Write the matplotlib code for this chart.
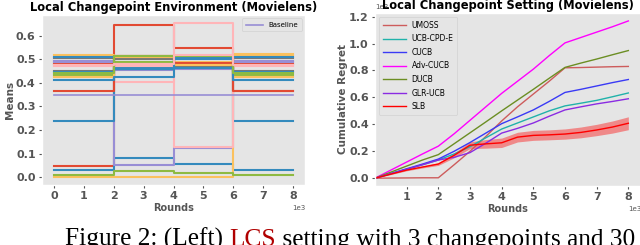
import numpy as np
import matplotlib
matplotlib.use("Agg")
import matplotlib.pyplot as plt

plt.style.use("ggplot")

# ---------------- data: left panel (arm means per segment) ----------------
change_rounds = [0, 2000, 4000, 6000, 8000]
arm_means = [
    [0.046, 0.645, 0.548, 0.365],
    [0.029, 0.082, 0.055, 0.029],
    [0.493, 0.051, 0.125, 0.493],
    [0.504, 0.500, 0.505, 0.504],
    [0.000, 0.000, 0.000, 0.524],
    [0.010, 0.026, 0.017, 0.010],
    [0.486, 0.403, 0.653, 0.486],
    [0.479, 0.515, 0.485, 0.479],
    [0.237, 0.465, 0.505, 0.237],
    [0.490, 0.455, 0.460, 0.490],
    [0.451, 0.460, 0.470, 0.451],
    [0.518, 0.510, 0.490, 0.518],
    [0.435, 0.487, 0.510, 0.435],
    [0.471, 0.470, 0.130, 0.471],
    [0.365, 0.515, 0.485, 0.365],
    [0.447, 0.458, 0.465, 0.447],
    [0.426, 0.482, 0.477, 0.426],
    [0.413, 0.424, 0.500, 0.413],
    [0.511, 0.460, 0.510, 0.511],
    [0.440, 0.515, 0.512, 0.440],
    [0.476, 0.480, 0.520, 0.476],
]
arm_color_idx = [0, 1, 2, 3, 4, 5, 6, 0, 1, 2, 3, 4, 5, 6, 0, 1, 4, 1, 1, 5, 6]
baseline_mean = 0.35

# ---------------- data: right panel (cumulative regret) ----------------
rounds = [0, 500, 1000, 1500, 2000, 2500, 3000, 3500, 4000, 4500, 5000,
          5500, 6000, 6500, 7000, 7500, 8000]
algo_names = ["UMOSS", "UCB-CPD-E", "CUCB", "Adv-CUCB", "DUCB", "GLR-UCB", "SLB"]
regret_umoss = [0, 1, 2, 3, 3, 100, 200, 310, 425, 530, 625, 720, 820, 822, 825, 828, 830]
regret_ucbcpde = [0, 33, 66, 100, 135, 180, 234, 300, 365, 410, 455, 500, 537, 557, 578, 605, 633]
regret_cucb = [0, 35, 70, 105, 142, 200, 265, 335, 405, 455, 507, 570, 637, 660, 685, 710, 733]
regret_advcucb = [0, 60, 120, 180, 238, 330, 430, 530, 630, 720, 810, 910, 1005, 1045, 1085, 1125, 1168]
regret_ducb = [0, 45, 90, 135, 175, 256, 337, 418, 500, 580, 660, 742, 823, 855, 885, 917, 948]
regret_glrucb = [0, 33, 66, 100, 135, 155, 190, 260, 335, 370, 410, 460, 507, 530, 552, 570, 590]
regret_slb = [0, 30, 60, 83, 105, 170, 245, 255, 263, 305, 318, 322, 328, 340, 358, 380, 408]
regret_slb_std = [0, 3, 5, 7, 10, 18, 25, 32, 35, 36, 37, 37, 38, 40, 42, 45, 48]

caption_parts = ["Figure 2: (Left) ", "LCS", " setting with 3 changepoints and 30"]

palette = ['#E24A33', '#348ABD', '#988ED5', '#777777', '#FBC15E', '#8EBA42', '#FFB5B8']
algo_colors = ['#CD5C5C', '#20B2AA', '#3A3AF5', '#FF00FF', '#6B8E23', '#8A2BE2', '#FF0000']
caption_colors = ['black', '#B00000', 'black']

fig = plt.figure(figsize=(6.4, 2.45), dpi=100)
fig.patch.set_facecolor("white")

tick_kw = dict(labelsize=8, colors='#555555', length=2.5, width=0.8, pad=2)

# ---------- left ----------
ax1 = fig.add_axes([42/640, 60/245, 263/640, 170/245])
for means, ci in zip(arm_means, arm_color_idx):
    ax1.step(change_rounds, list(means) + [means[-1]], where='post',
             color=palette[ci], lw=1.5)
ax1.plot([change_rounds[0], change_rounds[-1]], [baseline_mean, baseline_mean],
         color=palette[2], lw=1.2, label="Baseline")
ax1.grid(False)
ax1.set_xlim(-400, 8400)
ax1.set_ylim(-0.033, 0.688)
ax1.set_yticks([0.0, 0.1, 0.2, 0.3, 0.4, 0.5, 0.6])
ax1.set_xticks(range(0, 8001, 1000))
ax1.ticklabel_format(axis='x', style='sci', scilimits=(3, 3))
ax1.xaxis.get_offset_text().set_fontsize(5)
ax1.tick_params(**tick_kw)
for lab in ax1.get_xticklabels() + ax1.get_yticklabels():
    lab.set_fontweight('bold')
ax1.set_title("Local Changepoint Environment (Movielens)", fontsize=8.3,
              fontweight='bold', color='black', pad=3, y=1.0)
ax1.set_xlabel("Rounds", fontsize=7, fontweight='bold', color='#555555', labelpad=1)
ax1.set_ylabel("Means", fontsize=7.5, fontweight='bold', color='#555555', labelpad=1)
ax1.legend(loc='upper right', fontsize=5, handlelength=2.5, borderpad=0.5)

# ---------- right ----------
ax2 = fig.add_axes([375/640, 59/245, 266/640, 173/245])
series = [regret_umoss, regret_ucbcpde, regret_cucb, regret_advcucb,
          regret_ducb, regret_glrucb, regret_slb]
for name, vals, c in zip(algo_names, series, algo_colors):
    ax2.plot(rounds, vals, color=c, lw=1.0, label=name)
slb = np.array(regret_slb, dtype=float)
sd = np.array(regret_slb_std, dtype=float)
ax2.fill_between(rounds, slb - sd, slb + sd, color='#FF0000', alpha=0.4, lw=0)
ax2.grid(False)
ax2.set_xlim(0, 8400)
ax2.set_ylim(-58, 1227)
ax2.set_xticks(range(1000, 8001, 1000))
ax2.set_yticks([0, 200, 400, 600, 800, 1000, 1200])
ax2.ticklabel_format(axis='both', style='sci', scilimits=(3, 3))
ax2.xaxis.get_offset_text().set_fontsize(5)
ax2.yaxis.get_offset_text().set_fontsize(5)
ax2.yaxis.get_offset_text().set_color('#999999')
ax2.tick_params(**tick_kw)
for lab in ax2.get_xticklabels() + ax2.get_yticklabels():
    lab.set_fontweight('bold')
ax2.set_title("Local Changepoint Setting (Movielens)", fontsize=8.3,
              fontweight='bold', color='black', pad=3, y=1.0, zorder=5)
ax2.set_xlabel("Rounds", fontsize=7, fontweight='bold', color='#555555', labelpad=1)
ax2.set_ylabel("Cumulative Regret", fontsize=7.5, fontweight='bold', color='#555555', labelpad=1)
ax2.legend(loc='upper left', fontsize=5.5, handlelength=3.0, borderpad=0.5,
           labelspacing=0.6)

# caption fragment, pieces placed side by side
fig.canvas.draw()
renderer = fig.canvas.get_renderer()
x_px = 65.0
for part, col in zip(caption_parts, caption_colors):
    t = fig.text(x_px / 640, -1/245, part, fontsize=18.3, family='Liberation Serif',
                 ha='left', va='baseline', color=col)
    bb = t.get_window_extent(renderer=renderer)
    x_px = bb.x1

fig.savefig("out.png", dpi=100)
